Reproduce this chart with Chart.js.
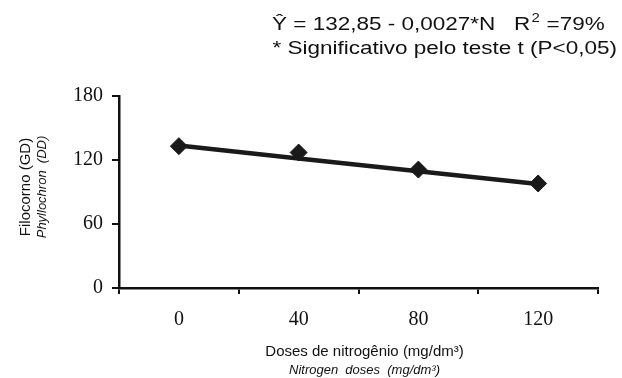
<!DOCTYPE html>
<html lang="pt">
<head>
    <meta charset="UTF-8">
    <title>Filocrono x doses de nitrogênio</title>
    <script src="https://cdn.jsdelivr.net/npm/chart.js"></script>
    <style>
        body { margin: 0; background: #fff; }
        #wrap { width: 622px; height: 378px; }
    </style>
</head>
<body>
    <div id="wrap"><canvas id="filocrono" width="622" height="378"></canvas></div>

    <script>
        // dados
        const doses = ["0", "40", "80", "120"];
        const filocrono = [133, 127, 111, 98];        // valores observados (losangos)
        const ajustado = [133.5, 121.5, 109.5, 97.5]; // reta ajustada
        const yTicks = [0, 60, 120, 180];

        const equacao = "Ŷ = 132,85 - 0,0027*N   R";
        const r2 = "=79%";
        const nota = "* Significativo pelo teste t (P<0,05)";
        const tituloY = ["Filocorno (GD)", "Phyllochron  (DD)"];
        const tituloX = ["Doses de nitrogênio (mg/dm³)", "Nitrogen  doses  (mg/dm³)"];

        const sans = "'Liberation Sans', Arial, sans-serif";
        const serif = "'Liberation Serif', 'Times New Roman', serif";

        // textos fora dos eixos (equação e títulos em duas linhas)
        const textos = {
            id: "textos",
            afterDraw(chart) {
                const ctx = chart.ctx;
                const area = chart.chartArea;
                ctx.save();
                ctx.fillStyle = "#111";
                ctx.textBaseline = "alphabetic";

                // equação (texto esticado na horizontal como no original)
                ctx.save();
                ctx.translate(272, 0);
                ctx.scale(1.25, 1);
                ctx.font = "18px " + sans;
                ctx.textAlign = "left";
                ctx.fillText(equacao, 0, 30);
                let w = ctx.measureText(equacao).width;
                ctx.font = "12px " + sans;
                ctx.fillText("2", w + 1, 22);
                ctx.font = "18px " + sans;
                ctx.fillText(" " + r2, w + 8, 30);
                ctx.restore();

                ctx.save();
                ctx.translate(617, 0);
                ctx.scale(1.25, 1);
                ctx.font = "18px " + sans;
                ctx.textAlign = "right";
                ctx.fillText(nota, 0, 54);
                ctx.restore();

                // título do eixo x
                const cx = (area.left + area.right) / 2 + 6;
                ctx.textAlign = "center";
                ctx.font = "15px " + sans;
                ctx.fillText(tituloX[0], cx, 356);
                ctx.font = "italic 13px " + sans;
                ctx.fillText(tituloX[1], cx, 374);

                // título do eixo y
                const cy = (area.top + area.bottom) / 2 - 5;
                ctx.translate(0, cy);
                ctx.rotate(-Math.PI / 2);
                ctx.font = "15px " + sans;
                ctx.fillText(tituloY[0], 0, 30);
                ctx.font = "italic 13px " + sans;
                ctx.fillText(tituloY[1], 0, 46);
                ctx.restore();
            }
        };

        new Chart(document.getElementById("filocrono").getContext("2d"), {
            type: "line",
            data: {
                labels: doses,
                datasets: [{
                    data: ajustado,
                    borderColor: "#1a1a1a",
                    borderWidth: 4.5,
                    pointRadius: 0,
                    tension: 0,
                    fill: false
                }, {
                    data: filocrono,
                    showLine: false,
                    borderColor: "#1a1a1a",
                    backgroundColor: "#1a1a1a",
                    pointStyle: "rectRot",
                    pointRadius: 8.5,
                    pointBorderWidth: 1
                }]
            },
            options: {
                responsive: false,
                animation: false,
                layout: { padding: { left: 0, right: 24, top: 96, bottom: 0 } },
                plugins: {
                    legend: { display: false },
                    tooltip: { enabled: false }
                },
                scales: {
                    x: {
                        type: "category",
                        offset: true,
                        grid: {
                            offset: true,
                            drawOnChartArea: false,
                            drawTicks: true,
                            tickLength: 6,
                            color: "#111",
                            lineWidth: 2
                        },
                        border: { color: "#111", width: 2.5 },
                        ticks: {
                            color: "#111",
                            font: { family: serif, size: 20 },
                            padding: 14,
                            maxRotation: 0
                        },
                        afterFit(scale) { scale.height = 90; }
                    },
                    y: {
                        min: 0,
                        max: 180,
                        afterBuildTicks(scale) { scale.ticks = yTicks.map(v => ({ value: v })); },
                        grid: {
                            drawOnChartArea: false,
                            drawTicks: true,
                            tickLength: 7,
                            color: "#111",
                            lineWidth: 2
                        },
                        border: { color: "#111", width: 2.5 },
                        ticks: {
                            color: "#111",
                            font: { family: serif, size: 20 },
                            padding: 9
                        },
                        afterFit(scale) { scale.width = 119; }
                    }
                }
            },
            plugins: [textos]
        });
    </script>
</body>
</html>
